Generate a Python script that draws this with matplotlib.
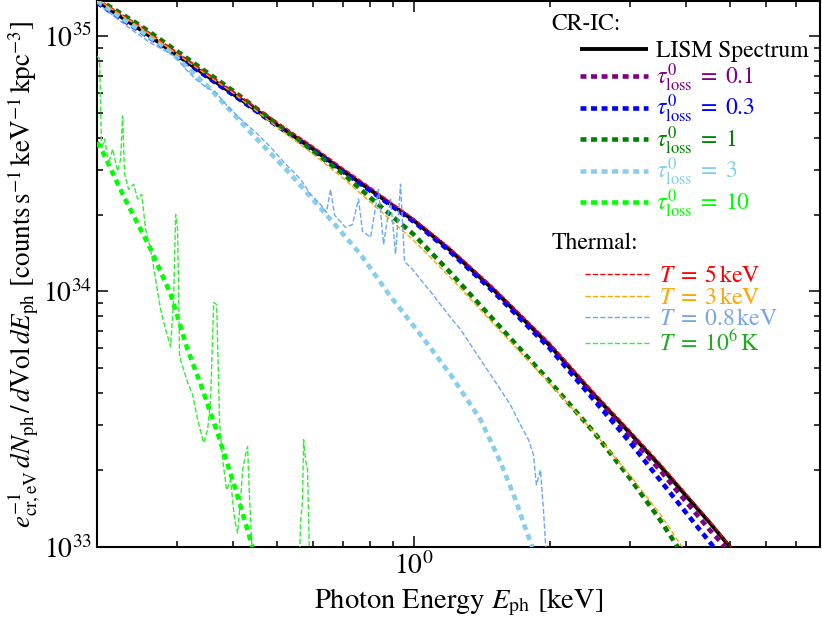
import numpy as np
import matplotlib
matplotlib.use("Agg")
import matplotlib.pyplot as plt
from matplotlib.ticker import NullFormatter

plt.rcParams['font.family'] = 'serif'
plt.rcParams['font.serif'] = ['STIXGeneral', 'DejaVu Serif']
plt.rcParams['mathtext.fontset'] = 'stix'

# ---------------- data (keV, counts s^-1 keV^-1 kpc^-3) ----------------
E_cr = [0.2, 0.25, 0.3, 0.4, 0.5, 0.6, 0.7, 0.8, 1.0, 1.2, 1.5, 2.0, 2.5, 3.0, 3.5, 4.0, 4.5, 5.0]
lism = [1.37e35, 1.056e35, 8.42e34, 5.92e34, 4.48e34, 3.61e34, 2.955e34, 2.51e34, 1.90e34,
        1.46e34, 1.018e34, 6.14e33, 3.95e33, 2.80e33, 2.08e33, 1.585e33, 1.25e33, 1.0e33]

E_t01 = [0.2, 0.25, 0.3, 0.4, 0.5, 0.6, 0.7, 0.8, 1.0, 1.2, 1.5, 2.0, 2.5, 3.0, 3.5, 4.0, 4.5, 4.88]
tau01 = [1.36e35, 1.05e35, 8.4e34, 5.9e34, 4.47e34, 3.6e34, 2.95e34, 2.5e34, 1.89e34,
         1.45e34, 1.01e34, 6.09e33, 3.87e33, 2.72e33, 2.0e33, 1.50e33, 1.17e33, 1.0e33]

E_t03 = [0.2, 0.25, 0.3, 0.4, 0.5, 0.6, 0.7, 0.8, 1.0, 1.2, 1.5, 2.0, 2.5, 3.0, 3.5, 4.0, 4.6]
tau03 = [1.35e35, 1.04e35, 8.35e34, 5.88e34, 4.45e34, 3.58e34, 2.94e34, 2.49e34, 1.88e34,
         1.44e34, 1.0e34, 5.98e33, 3.77e33, 2.58e33, 1.83e33, 1.36e33, 1.0e33]

E_t1 = [0.2, 0.25, 0.3, 0.4, 0.5, 0.6, 0.7, 0.8, 1.0, 1.2, 1.5, 2.0, 2.5, 3.0, 3.5, 3.83]
tau1 = [1.40e35, 1.095e35, 8.73e34, 6.09e34, 4.52e34, 3.54e34, 2.88e34, 2.34e34, 1.673e34,
        1.197e34, 7.77e33, 4.44e33, 2.82e33, 1.865e33, 1.28e33, 1.0e33]

E_t3 = [0.2, 0.237, 0.286, 0.356, 0.436, 0.535, 0.656, 0.764, 0.890, 1.036, 1.207, 1.406,
        1.556, 1.68, 1.75, 1.83]
tau3 = [1.37e35, 1.114e35, 8.89e34, 6.2e34, 4.20e34, 2.88e34, 1.91e34, 1.396e34, 9.55e33,
        6.78e33, 4.73e33, 3.15e33, 2.15e33, 1.53e33, 1.24e33, 1.0e33]

E_t10 = [0.2, 0.206, 0.229, 0.263, 0.291, 0.317, 0.339, 0.369, 0.405, 0.441]
tau10 = [3.84e34, 3.51e34, 2.36e34, 1.46e34, 9.73e33, 5.92e33, 4.32e33, 2.80e33, 1.67e33, 1.0e33]

E_T5 = [0.2, 0.25, 0.3, 0.4, 0.5, 0.6, 0.7, 0.8, 1.0, 1.2, 1.5, 2.0, 2.5, 3.0, 3.5, 4.0, 4.5, 5.02]
T5 = [1.40e35, 1.09e35, 8.65e34, 6.08e34, 4.60e34, 3.70e34, 3.03e34, 2.57e34, 1.93e34,
      1.49e34, 1.04e34, 6.3e33, 4.05e33, 2.87e33, 2.13e33, 1.62e33, 1.27e33, 1.0e33]

E_T3 = [0.2, 0.25, 0.3, 0.4, 0.5, 0.6, 0.7, 0.8, 1.0, 1.2, 1.5, 2.0, 2.5, 3.0, 3.5, 3.92]
T3 = [1.39e35, 1.074e35, 8.5e34, 5.97e34, 4.40e34, 3.45e34, 2.77e34, 2.25e34, 1.585e34,
      1.145e34, 7.49e33, 4.36e33, 2.82e33, 1.916e33, 1.35e33, 1.0e33]

E_T08 = [0.200, 0.2177, 0.2372, 0.2627, 0.2835, 0.2983, 0.3139, 0.3302, 0.3474, 0.3655,
         0.3846, 0.4150, 0.4478, 0.4834, 0.5218, 0.5630, 0.5924, 0.6232, 0.6425, 0.6558,
         0.6693, 0.7078, 0.7333, 0.7559, 0.7714, 0.8038, 0.8369, 0.8587, 0.8897, 0.9126,
         0.9361, 0.9553, 0.9949, 1.036, 1.090, 1.147, 1.207, 1.270, 1.336, 1.406, 1.479,
         1.556, 1.637, 1.722, 1.794, 1.840, 1.868, 1.907, 1.936, 1.966]
T08 = [1.347e35, 1.197e35, 1.065e35, 9.39e34, 8.73e34, 8.27e34, 7.42e34, 6.78e34, 6.31e34,
       6.03e34, 5.41e34, 4.73e34, 4.20e34, 3.67e34, 3.15e34, 2.75e34, 2.40e34, 2.19e34,
       2.04e34, 2.51e34, 1.99e34, 1.78e34, 1.83e34, 2.30e34, 1.72e34, 1.63e34, 2.51e34,
       1.53e34, 2.30e34, 1.40e34, 2.63e34, 1.31e34, 1.22e34, 1.114e34, 1.0e34, 8.89e33,
       7.91e33, 7.10e33, 6.20e33, 5.41e33, 4.73e33, 4.13e33, 3.60e33, 3.01e33, 2.63e33,
       2.30e33, 1.75e33, 2.0e33, 1.40e33, 0.9e33]

E_T6 = [0.200, 0.2026, 0.2047, 0.2079, 0.2122, 0.2165, 0.2221, 0.2255, 0.2278, 0.2301,
        0.2349, 0.2409, 0.2459, 0.2510, 0.2561, 0.2627, 0.2694, 0.2763, 0.2835, 0.2908,
        0.2953, 0.2983, 0.3013, 0.3044, 0.3107, 0.3171, 0.3252, 0.3336, 0.3439, 0.3510,
        0.3564, 0.3619, 0.3675, 0.3731, 0.3789, 0.3866, 0.3945, 0.4026, 0.4088, 0.4150,
        0.4193, 0.4257, 0.4301, 0.4345, 0.441, 0.50, 0.5602, 0.5630, 0.5689, 0.5718,
        0.5776, 0.5834, 0.5894]
T6 = [8.35e34, 8.12e34, 3.61e34, 3.95e34, 3.15e34, 3.61e34, 2.955e34, 3.29e34, 4.86e34,
      2.88e34, 2.51e34, 2.63e34, 2.30e34, 2.40e34, 1.75e34, 1.46e34, 1.114e34, 8.50e33,
      7.10e33, 6.08e33, 9.30e33, 2.00e34, 1.75e34, 5.56e33, 4.94e33, 4.40e33, 3.95e33,
      3.15e33, 2.56e33, 2.88e33, 3.77e33, 9.05e33, 8.89e33, 3.06e33, 2.19e33, 1.67e33,
      1.83e33, 1.28e33, 1.135e33, 1.53e33, 2.0e33, 2.30e33, 2.47e33, 1.53e33, 0.9e33,
      np.nan, 0.9e33, 1.24e33, 1.53e33, 2.63e33, 2.19e33, 2.0e33, 0.9e33]

cr_labels = ['LISM Spectrum', r'$\tau_{\rm loss}^0\;=\;0.1$', r'$\tau_{\rm loss}^0\;=\;0.3$',
             r'$\tau_{\rm loss}^0\;=\;1$', r'$\tau_{\rm loss}^0\;=\;3$', r'$\tau_{\rm loss}^0\;=\;10$']
th_labels = [r'$T\;=\;5\,\rm keV$', r'$T\;=\;3\,\rm keV$', r'$T\;=\;0.8\,\rm keV$',
             r'$T\;=\;10^6\,\rm K$']

# ---------------- styles ----------------
cr_colors = ['black', 'purple', 'blue', 'green', 'skyblue', 'lime']
th_colors = ['red', 'orange', '#6aa8f5', '#33ee33']
th_text_colors = ['red', 'orange', '#7aa6e8', '#22aa22']
dot = (0, (1.3, 1.0))

fig = plt.figure(figsize=(8.22, 6.17), dpi=100)
ax = fig.add_axes([97/822, 70/617, 723/822, 546/617])

cr_sets = [(E_cr, lism), (E_t01, tau01), (E_t03, tau03), (E_t1, tau1), (E_t3, tau3), (E_t10, tau10)]
cr_handles = []
for i, ((e, f), c) in enumerate(zip(cr_sets, cr_colors)):
    if i == 0:
        h, = ax.plot(e, f, color=c, lw=2.8, solid_capstyle='butt', zorder=3)
    else:
        h, = ax.plot(e, f, color=c, lw=3.3, linestyle=dot, dash_capstyle='butt', zorder=4)
    cr_handles.append(h)

th_sets = [(E_T5, T5), (E_T3, T3), (E_T08, T08), (E_T6, T6)]
th_handles = []
for (e, f), c in zip(th_sets, th_colors):
    h, = ax.plot(e, f, color=c, lw=1.0, linestyle='--', zorder=5)
    th_handles.append(h)

ax.set_xscale('log')
ax.set_yscale('log')
ax.set_xlim(0.2, 7.9)
ax.set_ylim(1e33, 1.37e35)

ax.xaxis.set_minor_formatter(NullFormatter())
ax.yaxis.set_minor_formatter(NullFormatter())
ax.tick_params(which='both', direction='in', top=True, right=True, labelsize=20, width=1.1)
ax.tick_params(which='major', length=8)
ax.tick_params(which='minor', length=4)
for s in ax.spines.values():
    s.set_linewidth(1.5)

ax.set_xlabel(r'Photon Energy $E_{\rm ph}$ [keV]', fontsize=20.5, labelpad=5)
ax.set_ylabel(r'$e_{\rm cr,eV}^{-1}\,dN_{\rm ph}\,/\,d{\rm Vol}\,dE_{\rm ph}$ [counts$\,$s$^{-1}\,$keV$^{-1}\,$kpc$^{-3}$]',
              fontsize=19.5, labelpad=0)

leg1 = ax.legend(cr_handles, cr_labels, loc='upper left', bbox_to_anchor=(0.668, 0.927),
                 frameon=False, fontsize=17, handlelength=2.9, handletextpad=0.34,
                 labelspacing=-0.03, borderpad=0, borderaxespad=0)
for t, c in zip(leg1.get_texts(), cr_colors):
    t.set_color(c)
ax.add_artist(leg1)
leg2 = ax.legend(th_handles, th_labels, loc='upper left', bbox_to_anchor=(0.675, 0.515),
                 frameon=False, fontsize=17, handlelength=2.7, handletextpad=0.42,
                 labelspacing=0.0, borderpad=0, borderaxespad=0)
for t, c in zip(leg2.get_texts(), th_text_colors):
    t.set_color(c)

ax.text(0.628, 0.958, 'CR-IC:', transform=ax.transAxes, fontsize=17, ha='left', va='center')
ax.text(0.628, 0.557, 'Thermal:', transform=ax.transAxes, fontsize=17, ha='left', va='center')

fig.savefig('out.png', dpi=100)
